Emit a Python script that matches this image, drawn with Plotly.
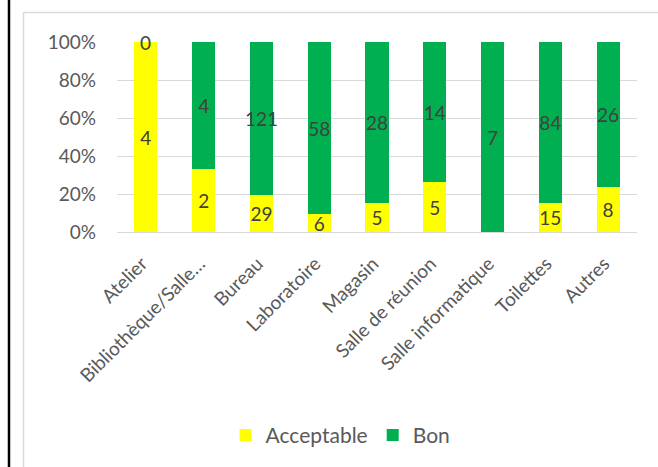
import plotly.graph_objects as go

categories = ["Atelier", "Bibliothèque/Salle…", "Bureau", "Laboratoire", "Magasin",
              "Salle de réunion", "Salle informatique", "Toilettes", "Autres"]
acceptable = [4, 2, 29, 6, 5, 5, None, 15, 8]
bon = [0, 4, 121, 58, 28, 14, 7, 84, 26]
y_ticks = [0, 20, 40, 60, 80, 100]
y_tick_labels = ["0%", "20%", "40%", "60%", "80%", "100%"]

FONT = "Lato, 'Open Sans', sans-serif"
LABEL_COLOR = "#404040"
TICK_COLOR = "#595959"
FS = 19

def txt(vals):
    return ["" if (v is None or v == 0) else str(v) for v in vals]

fig = go.Figure()
fig.add_trace(go.Bar(
    x=categories, y=acceptable, name="Acceptable",
    marker=dict(color="#FFFF00", line=dict(width=0)),
    text=txt(acceptable), textposition="inside", insidetextanchor="middle",
    textangle=0, constraintext="none",
    textfont=dict(family=FONT, size=FS, color=LABEL_COLOR),
))
fig.add_trace(go.Bar(
    x=categories, y=bon, name="Bon",
    marker=dict(color="#00B050", line=dict(width=0)),
    text=txt(bon), textposition="inside", insidetextanchor="middle",
    textangle=0, constraintext="none",
    textfont=dict(family=FONT, size=FS, color=LABEL_COLOR),
))

# zero-value label for "Bon" shown at the top of the stack
for c, v in zip(categories, bon):
    if v == 0:
        fig.add_annotation(x=c, y=100, text=str(v), showarrow=False,
                           yanchor="middle", xanchor="center",
                           font=dict(family=FONT, size=FS, color=LABEL_COLOR))

# decorative frame lines (paper coordinates)
fig.add_shape(type="line", xref="paper", yref="paper",
              x0=-0.2077, x1=-0.2077, y0=-1.4, y1=1.4,
              line=dict(color="black", width=2.5))
fig.add_shape(type="line", xref="paper", yref="paper",
              x0=-0.1798, x1=-0.1798, y0=-1.4, y1=1.155,
              line=dict(color="#D9D9D9", width=1.5))
fig.add_shape(type="line", xref="paper", yref="paper",
              x0=-0.1798, x1=1.2, y0=1.155, y1=1.155,
              line=dict(color="#D9D9D9", width=1.5))

fig.update_layout(
    width=658, height=467,
    margin=dict(l=117, r=21, t=42, b=235, autoexpand=False),
    barmode="stack", barnorm="percent", bargap=0.6,
    paper_bgcolor="white", plot_bgcolor="white",
    font=dict(family=FONT, size=FS, color=TICK_COLOR),
    showlegend=True,
    legend=dict(orientation="h", x=0.43, y=-1.07, xanchor="center", yanchor="middle",
                font=dict(family=FONT, size=21, color=TICK_COLOR),
                itemwidth=30, traceorder="normal"),
)
fig.update_xaxes(tickangle=-45, showgrid=False, showline=False, ticks="",
                 automargin=False, ticklabelstandoff=16, ticklabelshift=-4,
                 tickfont=dict(family=FONT, size=19, color=TICK_COLOR))
fig.update_yaxes(range=[0, 100], tickvals=y_ticks, ticktext=y_tick_labels,
                 showgrid=True, gridcolor="#D9D9D9", gridwidth=1,
                 zeroline=True, zerolinecolor="#D9D9D9", zerolinewidth=1,
                 showline=False, ticks="", ticklabelstandoff=20, automargin=False,
                 tickfont=dict(family=FONT, size=FS, color=TICK_COLOR))

fig.write_html("out.html", config={"displayModeBar": False},
               post_script="document.body.style.margin='0';document.body.style.padding='0';")
